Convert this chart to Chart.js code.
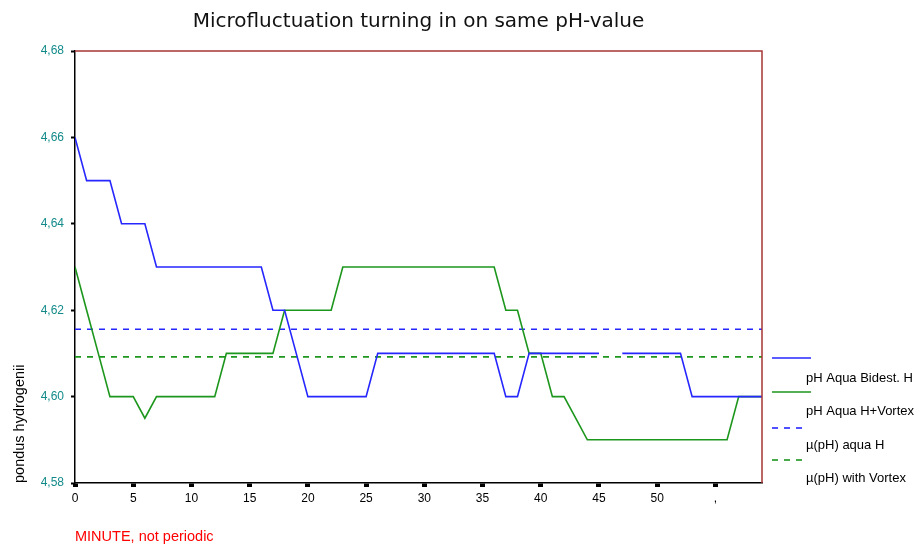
<!DOCTYPE html>
<html lang="en">
<head>
    <meta charset="UTF-8">
    <title>Microfluctuation</title>
    <script src="https://cdn.jsdelivr.net/npm/chart.js@4.4.0/dist/chart.umd.min.js"></script>
    <style>
        body{
            margin: 0;
            background: #fff;
        }
    </style>
</head>
<body>
    <canvas id="canvas" width="915" height="547"></canvas>

<script>
    // minutes 0..59
    const minutes = [0,1,2,3,4,5,6,7,8,9,10,11,12,13,14,15,16,17,18,19,
        20,21,22,23,24,25,26,27,28,29,30,31,32,33,34,35,36,37,38,39,
        40,41,42,43,44,45,46,47,48,49,50,51,52,53,54,55,56,57,58,59];

    // pH Aqua Bidest. H
    const bidest = [4.66,4.65,4.65,4.65,4.64,4.64,4.64,4.63,4.63,4.63,
        4.63,4.63,4.63,4.63,4.63,4.63,4.63,4.62,4.62,4.61,
        4.60,4.60,4.60,4.60,4.60,4.60,4.61,4.61,4.61,4.61,
        4.61,4.61,4.61,4.61,4.61,4.61,4.61,4.60,4.60,4.61,
        4.61,4.61,4.61,4.61,4.61,4.61,null,4.61,4.61,4.61,
        4.61,4.61,4.61,4.60,4.60,4.60,4.60,4.60,4.60,4.60];

    // pH Aqua H+Vortex
    const vortex = [4.63,4.62,4.61,4.60,4.60,4.60,4.595,4.60,4.60,4.60,
        4.60,4.60,4.60,4.61,4.61,4.61,4.61,4.61,4.62,4.62,
        4.62,4.62,4.62,4.63,4.63,4.63,4.63,4.63,4.63,4.63,
        4.63,4.63,4.63,4.63,4.63,4.63,4.63,4.62,4.62,4.61,
        4.61,4.60,4.60,4.595,4.59,4.59,4.59,4.59,4.59,4.59,
        4.59,4.59,4.59,4.59,4.59,4.59,4.59,4.60,4.60,4.60];

    // means
    const meanBidest = 4.6156;
    const meanVortex = 4.6092;

    const seriesLabels = ['pH Aqua Bidest. H', 'pH Aqua H+Vortex', '\u00b5(pH) aqua H', '\u00b5(pH) with Vortex'];
    const xTickLabels = ['0','5','10','15','20','25','30','35','40','45','50',','];
    const yTickLabels = ['4,58','4,60','4,62','4,64','4,66','4,68'];

    const BLUE = '#2626ff';
    const GREEN = '#1c961c';

    function pts(arr){
        return minutes.map(function(m, i){ return {x: m, y: arr[i]}; });
    }
    function flat(v){
        return minutes.map(function(m){ return {x: m, y: v}; });
    }

    // right side legend: line on one row, text on the next
    const sideLegend = {
        id: 'sideLegend',
        afterDraw: function(chart){
            const ctx = chart.ctx;
            const rows = [358, 392, 428, 460];
            const textRows = [378, 411, 445, 478];
            ctx.save();
            chart.data.datasets.forEach(function(ds, i){
                ctx.beginPath();
                ctx.strokeStyle = ds.borderColor;
                ctx.lineWidth = 1.6;
                ctx.setLineDash(ds.borderDash || []);
                ctx.moveTo(772, rows[i]);
                ctx.lineTo(ds.borderDash ? 804 : 811, rows[i]);
                ctx.stroke();
                ctx.setLineDash([]);
                ctx.fillStyle = '#000';
                ctx.font = '13px "Liberation Sans", Arial';
                ctx.textBaseline = 'middle';
                ctx.fillText(ds.label, 806, textRows[i]);
            });
            ctx.restore();
        }
    };

    // top and right frame in dark red
    const frame = {
        id: 'frame',
        afterDraw: function(chart){
            const a = chart.chartArea;
            const ctx = chart.ctx;
            ctx.save();
            ctx.strokeStyle = '#a83434';
            ctx.lineWidth = 1.5;
            ctx.beginPath();
            ctx.moveTo(a.left, a.top);
            ctx.lineTo(a.right, a.top);
            ctx.lineTo(a.right, a.bottom);
            ctx.stroke();
            ctx.restore();
        }
    };

    Chart.defaults.font.family = '"Liberation Sans", Arial, sans-serif';

    const ctx = document.getElementById('canvas').getContext('2d');
    const myChart = new Chart(ctx, {
        type: 'line',
        data: {
            datasets: [{
                label: seriesLabels[0],
                data: pts(bidest),
                borderColor: BLUE,
                borderWidth: 1.6,
                pointRadius: 0,
                spanGaps: false
            },{
                label: seriesLabels[1],
                data: pts(vortex),
                borderColor: GREEN,
                borderWidth: 1.6,
                pointRadius: 0
            },{
                label: seriesLabels[2],
                data: flat(meanBidest),
                borderColor: BLUE,
                borderWidth: 1.6,
                borderDash: [6, 6],
                pointRadius: 0
            },{
                label: seriesLabels[3],
                data: flat(meanVortex),
                borderColor: GREEN,
                borderWidth: 1.6,
                borderDash: [6, 6],
                pointRadius: 0
            }]
        },
        options: {
            responsive: false,
            animation: false,
            devicePixelRatio: 1,
            layout: {
                padding: {left: 0, right: 153, top: 0, bottom: 0}
            },
            plugins: {
                legend: {display: false},
                tooltip: {enabled: false},
                title: {
                    display: true,
                    text: 'Microfluctuation turning in on same pH-value',
                    fullSize: false,
                    color: '#111',
                    font: {family: '"DejaVu Sans", sans-serif', size: 20, weight: 'normal', lineHeight: 1.2},
                    padding: {top: 10, bottom: 17}
                }
            },
            scales: {
                x: {
                    type: 'linear',
                    min: 0,
                    max: 59,
                    afterFit: function(s){ s.height = 64; },
                    border: {display: true, color: '#000', width: 1.5},
                    grid: {
                        drawOnChartArea: false,
                        tickLength: 4,
                        tickWidth: 5,
                        tickColor: '#000'
                    },
                    ticks: {
                        stepSize: 5,
                        includeBounds: false,
                        autoSkip: false,
                        maxRotation: 0,
                        color: '#000',
                        padding: 4,
                        font: {size: 12},
                        callback: function(v){ return xTickLabels[Math.round(v / 5)]; }
                    },
                    title: {
                        display: true,
                        text: 'MINUTE, not periodic',
                        align: 'start',
                        color: '#ff0000',
                        font: {size: 14.5},
                        padding: {top: 0, bottom: 1}
                    }
                },
                y: {
                    min: 4.58,
                    max: 4.68,
                    afterFit: function(s){ s.width = 75; },
                    border: {display: true, color: '#000', width: 1.5},
                    grid: {
                        drawOnChartArea: false,
                        tickLength: 4,
                        tickWidth: 2,
                        tickColor: '#000'
                    },
                    ticks: {
                        stepSize: 0.02,
                        color: '#138a8a',
                        padding: 7,
                        font: {size: 12},
                        callback: function(v){ return yTickLabels[Math.round((v - 4.58) / 0.02)]; }
                    },
                    title: {
                        display: true,
                        text: 'pondus hydrogenii',
                        align: 'start',
                        color: '#000',
                        font: {size: 14.5},
                        padding: {top: 11, bottom: 0}
                    }
                }
            }
        },
        plugins: [sideLegend, frame]
    });
</script>
</body>
</html>
